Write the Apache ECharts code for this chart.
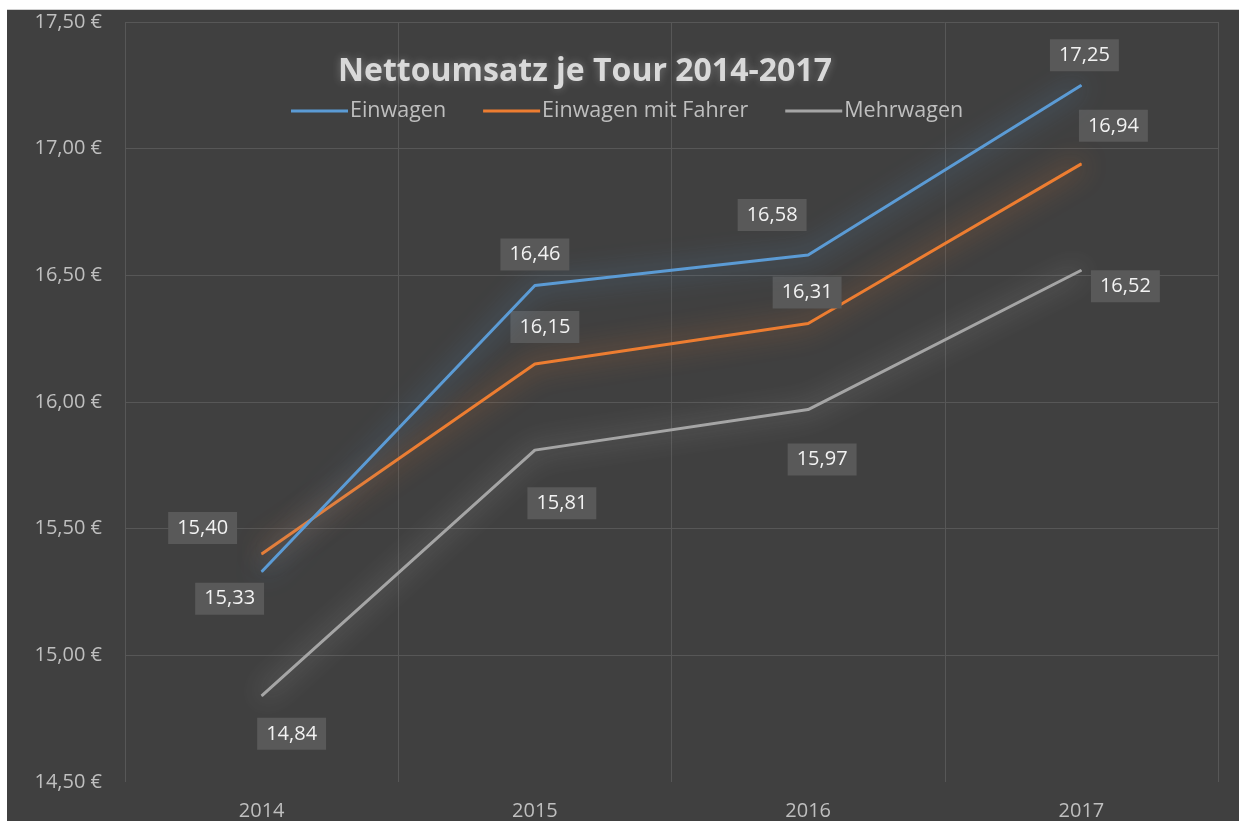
<!DOCTYPE html>
<html>
<head>
<meta charset="utf-8">
<script src="https://cdn.jsdelivr.net/npm/echarts@6/dist/echarts.min.js"></script>
<style>
  html, body { margin: 0; padding: 0; background: #ffffff; overflow: hidden; }
  #chart { position: absolute; left: 7px; top: 9px; right: 0; bottom: 0; border-top: 1px solid #d0d0d0; }
</style>
</head>
<body>
<div id="chart"></div>
<script>
var years = ['2014', '2015', '2016', '2017'];
var einwagen = [15.33, 16.46, 16.58, 17.25];
var einwagenFahrer = [15.40, 16.15, 16.31, 16.94];
var mehrwagen = [14.84, 15.81, 15.97, 16.52];

// label placement, as in the original chart
var offEinwagen = [[-32, 27], [0, -31], [-36, -40], [3, -30]];
var offFahrer = [[-59, -26], [10, -37], [-1, -31], [32, -38]];
var offMehr = [[30, 38], [27, 53], [14, 50], [44, 16]];

var colors = ['#5b9bd5', '#ed7d31', '#a5a5a5'];
var glow = ['rgba(91,155,213,0.95)', 'rgba(237,125,49,0.95)', 'rgba(200,200,200,0.8)'];
var font = '"Open Sans", "Noto Sans", sans-serif';

function fmt(v) {
  return v.toFixed(2).replace('.', ',');
}

function points(values, offsets) {
  return values.map(function (v, i) {
    return { value: v, label: { offset: offsets[i] } };
  });
}

function line(name, values, offsets, idx) {
  return {
    name: name,
    type: 'line',
    data: points(values, offsets),
    symbol: 'circle',
    symbolSize: 1,
    showSymbol: true,
    itemStyle: { color: colors[idx] },
    lineStyle: {
      color: colors[idx],
      width: 3,
      shadowBlur: 26,
      shadowColor: glow[idx]
    },
    label: {
      show: true,
      position: 'inside',
      formatter: function (p) { return fmt(p.value); },
      color: '#f2f2f2',
      fontFamily: font,
      fontSize: 20,
      backgroundColor: '#595959',
      padding: [7, 9, 5, 9]
    },
    emphasis: { disabled: true },
    z: 3 - idx
  };
}

var myChart = echarts.init(document.getElementById('chart'));

var option = {
  backgroundColor: '#404040',
  animation: false,
  title: {
    text: 'Nettoumsatz je Tour 2014-2017',
    left: 573,
    top: 41,
    textAlign: 'center',
    textStyle: {
      color: '#d9d9d9',
      fontFamily: font,
      fontWeight: 'bold',
      fontSize: 32,
      textShadowColor: 'rgba(255,255,255,0.3)',
      textShadowBlur: 8
    }
  },
  legend: {
    left: 279,
    top: 85,
    icon: 'rect',
    itemWidth: 57,
    itemHeight: 3,
    itemGap: 37,
    textStyle: { color: '#bfbfbf', fontFamily: font, fontSize: 21.5, padding: [0, 0, 0, -3] },
    data: ['Einwagen', 'Einwagen mit Fahrer', 'Mehrwagen']
  },
  grid: { left: 118, right: 21, top: 12, bottom: 36 },
  xAxis: {
    type: 'category',
    data: years,
    boundaryGap: true,
    axisLine: { show: false },
    axisTick: { show: false },
    axisLabel: { color: '#bfbfbf', fontFamily: font, fontSize: 20, margin: 19 },
    splitLine: { show: true, interval: 0, lineStyle: { color: '#575757', width: 1 } }
  },
  yAxis: {
    type: 'value',
    min: 14.5,
    max: 17.5,
    interval: 0.5,
    axisLine: { show: false },
    axisTick: { show: false },
    axisLabel: {
      color: '#bfbfbf',
      fontFamily: font,
      fontSize: 20,
      margin: 23,
      formatter: function (v) { return fmt(v) + ' €'; }
    },
    splitLine: {
      lineStyle: {
        color: ['rgba(0,0,0,0)', '#575757', '#575757', '#575757', '#575757', '#575757', '#575757'],
        width: 1
      }
    }
  },
  series: [
    line('Einwagen', einwagen, offEinwagen, 0),
    line('Einwagen mit Fahrer', einwagenFahrer, offFahrer, 1),
    line('Mehrwagen', mehrwagen, offMehr, 2)
  ]
};

myChart.setOption(option);
</script>
</body>
</html>
